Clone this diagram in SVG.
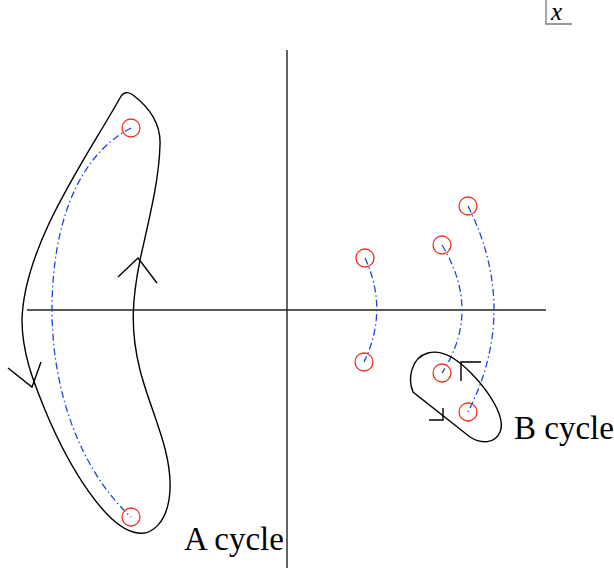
<svg xmlns="http://www.w3.org/2000/svg" width="614" height="571" viewBox="0 0 614 571">
<style>
.ax{stroke:#222;stroke-width:1.4;fill:none}
.cyc{stroke:#000;stroke-width:1.4;fill:none}
.tr{stroke:#2244dd;stroke-width:1.3;fill:none;stroke-dasharray:7 3 1.5 3}
.pt{stroke:#ee3322;stroke-width:1.3;fill:none}
.lbl{font-family:"Liberation Serif","Times New Roman",serif;font-size:33px;fill:#000}
</style>
<rect width="614" height="571" fill="#fff"/>
<g id="axes">
<line class="ax" x1="27" y1="310" x2="546" y2="310"/>
<line class="ax" x1="287" y1="50" x2="287" y2="568"/>
</g>
<g id="xlabel">
<polyline points="546,0 546,24 572,24" fill="none" stroke="#777" stroke-width="1.3"/>
<text x="551" y="20" font-family="'Liberation Serif','Times New Roman',serif" font-style="italic" font-size="25">x</text>
</g>
<g id="connectors">
<path class="tr" d="M131,128 C70,160 52,240 52,310 C52,390 80,470 131,517"/>
<path class="tr" d="M365,258 Q389,310 364,362"/>
<path class="tr" d="M442,245 Q482,311 442,373"/>
<path class="tr" d="M468,206 Q520,310 468,412"/>
</g>
<g id="cycleA">
<path class="cyc" d="M22,320 C24,245 85,160 120,98 C123,92 128,91 133,95 C150,108 161,125 160,145 C159,180 150,215 140,260 C132,300 130,330 140,370 C150,410 172,450 170,490 C168,525 150,535 138,533 C108,530 70,470 45,410 C35,385 22,355 22,320 Z"/>
<polyline class="cyc" points="118,277 138,258 157,283"/>
<polyline class="cyc" points="8,368 32,387 41,362"/>
<text class="lbl" x="184" y="550">A cycle</text>
</g>
<g id="cycleB">
<path class="cyc" d="M413,392 C408,380 410,358 428,353 C442,349 456,358 470,372 C490,392 506,418 500,432 C495,444 481,444 470,437 Z"/>
<polyline class="cyc" points="461,381 461,362 481,362"/>
<polyline class="cyc" points="429,420 443,420 443,408"/>
<text class="lbl" x="514" y="439">B cycle</text>
</g>
<g id="points">
<circle class="pt" cx="131" cy="128" r="9"/>
<circle class="pt" cx="131" cy="517" r="9"/>
<circle class="pt" cx="365" cy="258" r="9"/>
<circle class="pt" cx="364" cy="362" r="9"/>
<circle class="pt" cx="442" cy="245" r="9"/>
<circle class="pt" cx="442" cy="373" r="9"/>
<circle class="pt" cx="468" cy="206" r="9"/>
<circle class="pt" cx="468" cy="412" r="9"/>
</g>
</svg>
